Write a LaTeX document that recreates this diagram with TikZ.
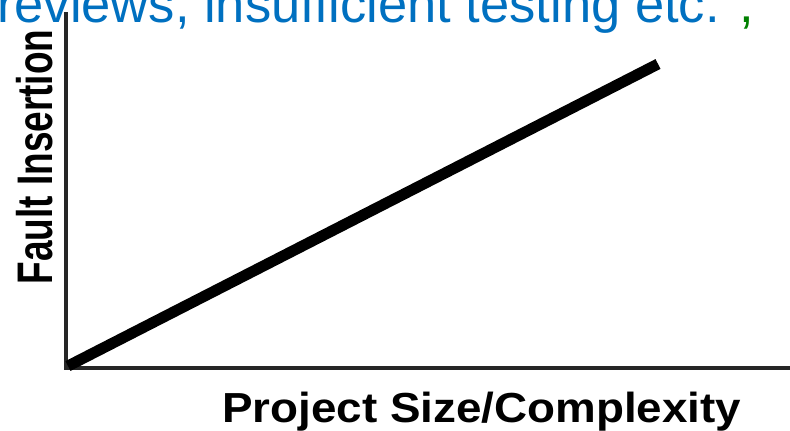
\documentclass[tikz,border=0pt]{standalone}
\usepackage{fontspec}
\setmainfont{Liberation Sans}
\definecolor{topblue}{RGB}{0,112,192}
\definecolor{topgreen}{RGB}{0,128,0}
\begin{document}
\begin{tikzpicture}[x=1pt,y=-1pt,
  axis/.style={line width=4pt,black!85},
  curve/.style={line width=11pt,black},
  lbl/.style={inner sep=0pt,font=\bfseries}]
\useasboundingbox (0,0) rectangle (790,431);
\clip (0,0) rectangle (790,431);
\node[inner sep=0pt,anchor=base west,text=topblue,font=\fontsize{52.5}{56}\selectfont] (top) at (-3,22) {reviews, insufficient testing etc.\hspace{20pt}{\color{topgreen},}};
\coordinate (o) at (66,368);
\coordinate (ytop) at (66,12);
\coordinate (xend) at (792,368);
\coordinate (s) at (68,366);
\coordinate (e) at (658,64);
\draw[axis] (ytop) -- (o) -- (xend);
\draw[curve] (s) -- (e);
\node[lbl,rotate=90,anchor=base,xscale=0.74,font=\bfseries\fontsize{50}{50}\selectfont] (ylab) at (52,157) {Fault Insertion};
\node[lbl,anchor=base west,xscale=1.09,font=\bfseries\fontsize{42}{42}\selectfont] (xlab) at (222,422) {Project Size/Complexity};
\end{tikzpicture}
\end{document}
